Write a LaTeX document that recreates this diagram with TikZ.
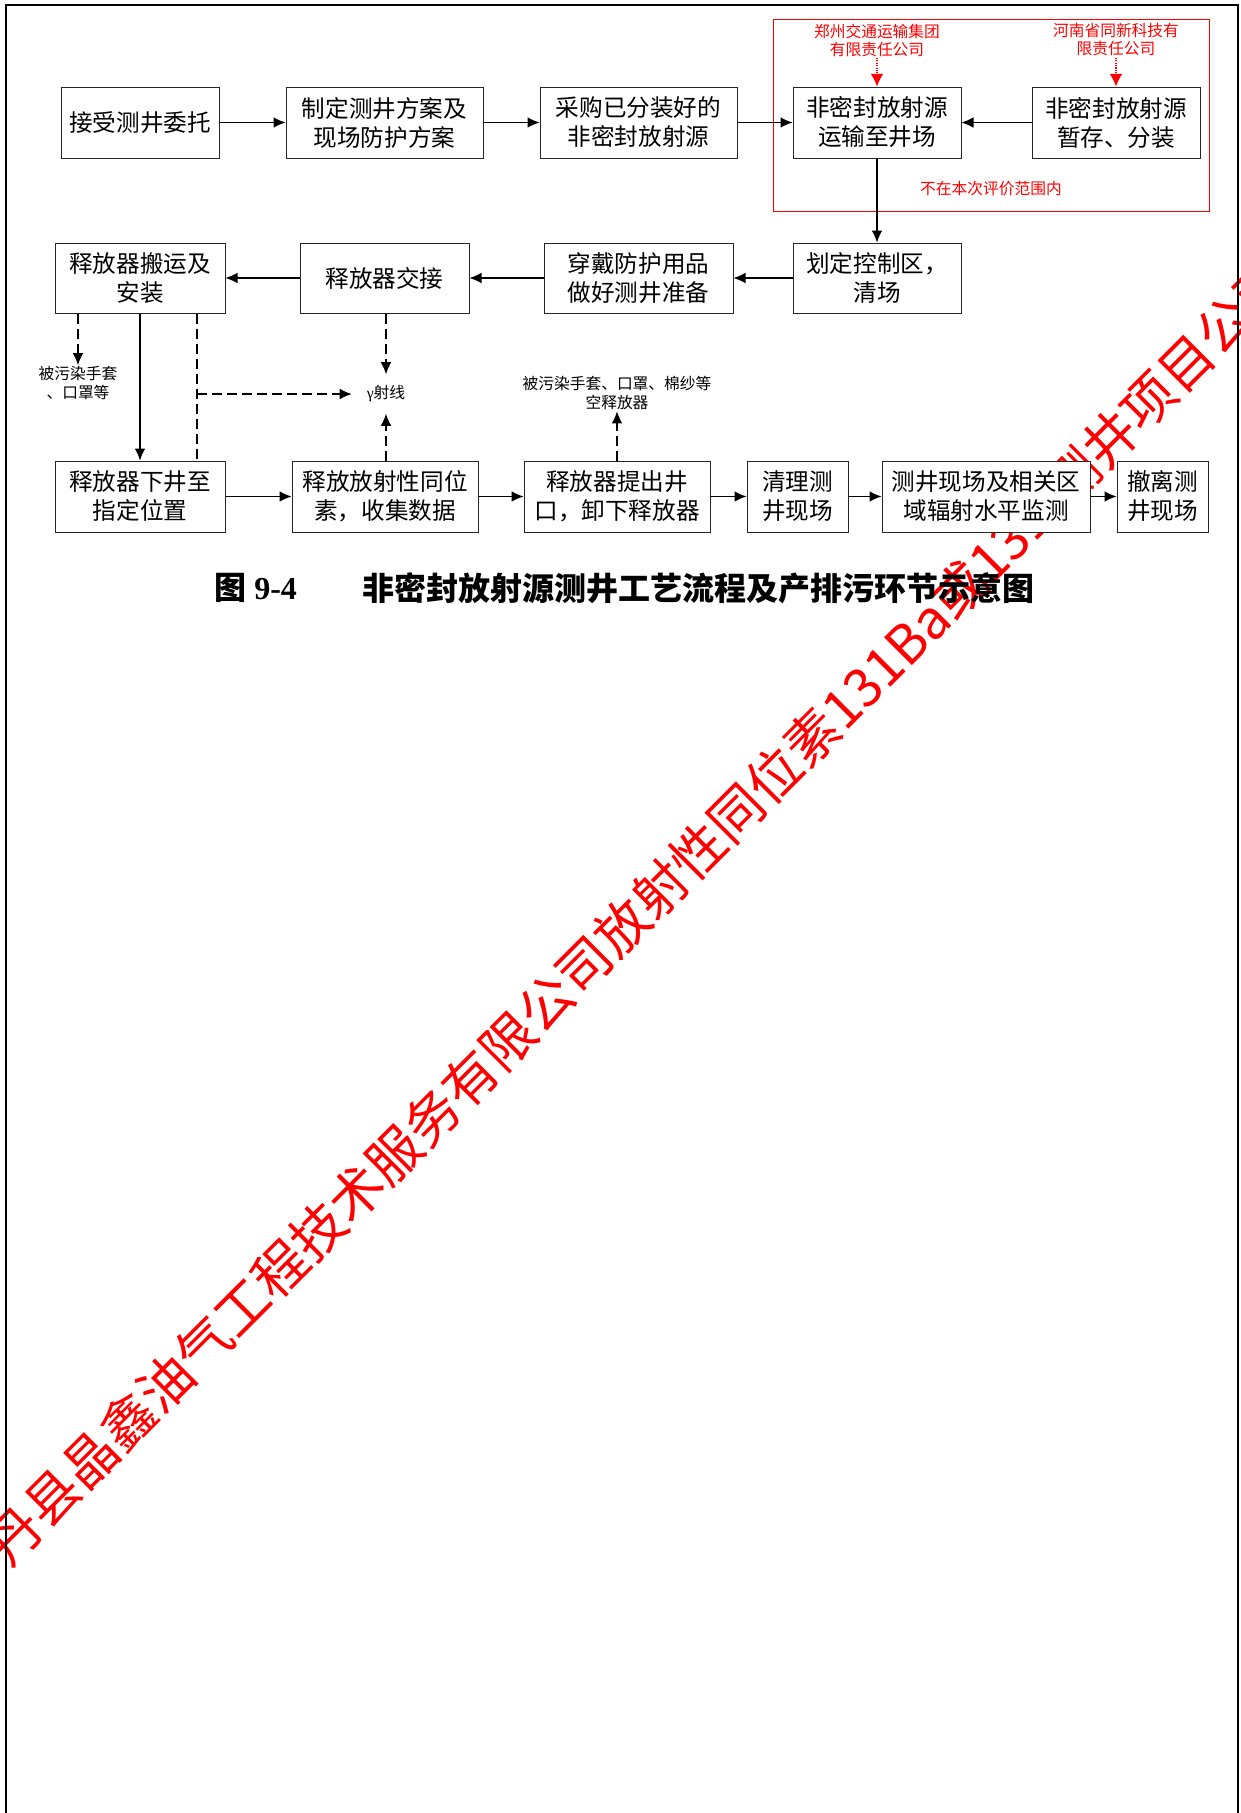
\documentclass[tikz,border=0pt]{standalone}
\usepackage{fontspec}
\setmainfont{Liberation Serif}
\newfontfamily\cjk{Noto Sans CJK SC}
\newfontfamily\lser{Liberation Serif}
\usetikzlibrary{arrows.meta}
\tikzset{
  box/.style={draw=black!85, line width=0.75pt, fill=white, align=center, inner sep=0pt,
    font=\cjk\fontsize{17.7}{21.75}\selectfont},
  wh/.style 2 args={minimum width=#1*0.75pt, minimum height=#2*0.75pt},
  arr/.style={-{Latex[length=9pt,width=8pt]}, line width=0.9pt, draw=black},
  dline/.style={line width=0.9pt, dash pattern=on 7.5pt off 3.75pt},
  darr/.style={dline, -{Latex[length=9pt,width=8pt]}},
  rarr/.style={draw=red, line width=0.8pt, densely dotted, -{Latex[length=9.5pt,width=9.5pt]}, fill=red},
  smalllab/.style={align=center, inner sep=1pt, font=\cjk\fontsize{11.8}{14.25}\selectfont},
  redlab/.style={smalllab, text=red, font=\cjk\fontsize{11.8}{13.5}\selectfont},
}
\begin{document}
\begin{tikzpicture}[x=0.75pt,y=-0.75pt]
\useasboundingbox (0,0) rectangle (1240,1813);
\fill[white] (0,0) rectangle (1240,1813);

% watermark
\begin{scope}
\clip (0,0) rectangle (1240,1813);
\node[rotate=45, anchor=base west, inner sep=0pt, text=red,
  font=\cjk\fontsize{40.3}{48}\selectfont] (wm) at (9,1569)
  {丹县晶鑫油气工程技术服务有限公司放射性同位素131Ba或131I测井项目公司};
\end{scope}

% page frame
\draw[line width=1.6pt] (6,1813) -- (6,5) -- (1238,5) -- (1238,1813);

% red region
\draw[red, line width=0.75pt] (773,19) rectangle (1209,211);
\node[redlab] (l4) at (877,40) {郑州交通运输集团\\有限责任公司};
\node[redlab] (l5) at (1116,40) {河南省同新科技有\\限责任公司};
\node[redlab] (notin) at (991,189) {不在本次评价范围内};

% row 1
\node[box, wh={158}{71}] (b1) at (140,122.5) {接受测井委托};
\node[box, wh={197}{71}] (b2) at (384.5,122.5) {制定测井方案及\\现场防护方案};
\node[box, wh={197}{71}] (b3) at (638.5,122.5) {采购已分装好的\\非密封放射源};
\node[box, wh={168}{71}] (b4) at (877,122.5) {非密封放射源\\运输至井场};
\node[box, wh={168}{71}] (b5) at (1116,122.5) {非密封放射源\\暂存、分装};

% row 2
\node[box, wh={170}{70}] (b9) at (140,278) {释放器搬运及\\安装};
\node[box, wh={169}{70}] (b8) at (384.5,278) {释放器交接};
\node[box, wh={189}{70}] (b7) at (638.5,278) {穿戴防护用品\\做好测井准备};
\node[box, wh={168}{70}] (b6) at (877,278) {划定控制区，\\清场};

% row 3
\node[box, wh={170}{71}] (b10) at (140,496.5) {释放器下井至\\指定位置};
\node[box, wh={186}{71}] (b11) at (385,496.5) {释放放射性同位\\素，收集数据};
\node[box, wh={186}{71}] (b12) at (617,496.5) {释放器提出井\\口，卸下释放器};
\node[box, wh={101}{71}] (b13) at (797.5,496.5) {清理测\\井现场};
\node[box, wh={208}{71}] (b14) at (986,496.5) {测井现场及相关区\\域辐射水平监测};
\node[box, wh={91}{71}] (b15) at (1162.5,496.5) {撤离测\\井现场};

% small labels
\node[smalllab] (glove) at (78,383.5) {被污染手套\\、口罩等};
\node[smalllab, inner sep=0pt, minimum width=68*0.75pt, minimum height=39*0.75pt] (gam) at (386,394) {{\lser γ}射线};
\node[smalllab] (pol) at (617,393) {被污染手套、口罩、棉纱等\\空释放器};
\coordinate (kx) at (197,394);

% red arrows
\draw[rarr] (l4) -- (b4);
\draw[rarr] (l5) -- (b5);

% connectors
\draw[arr] (b1) -- (b2);
\draw[arr] (b2) -- (b3);
\draw[arr] (b3) -- (b4);
\draw[arr] (b5) -- (b4);
\draw[arr] (b4) -- (b6);
\draw[arr] (b6) -- (b7);
\draw[arr] (b7) -- (b8);
\draw[arr] (b8) -- (b9);
\draw[arr] (b9) -- (b10);
\draw[arr] (b10) -- (b11);
\draw[arr] (b11) -- (b12);
\draw[arr] (b12) -- (b13);
\draw[arr] (b13) -- (b14);
\draw[arr] (b14) -- (b15);

\draw[darr] (b9.south -| glove) -- (glove);
\draw[dline] (b9.south -| kx) -- (b10.north -| kx);
\draw[darr] (kx) -- (gam);
\draw[darr] (b8.south -| gam) -- (gam);
\draw[darr] (b11.north -| gam) -- (gam);
\draw[darr] (b12) -- (pol);

% caption
\node[anchor=west, inner sep=0pt, font=\lser\bfseries\fontsize{24}{28}\selectfont] (cap1) at (214,588) {{\cjk\bfseries 图} 9-4};
\node[anchor=west, inner sep=0pt, font=\cjk\bfseries\fontsize{24}{28}\selectfont] (cap2) at (362,588) {非密封放射源测井工艺流程及产排污环节示意图};
\end{tikzpicture}
\end{document}
